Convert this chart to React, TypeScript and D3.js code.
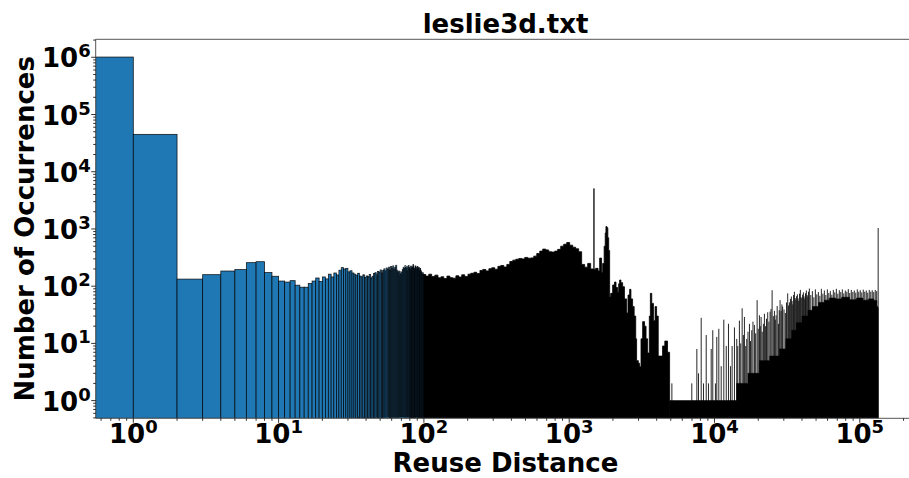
import * as d3 from "d3";

const TITLE = "leslie3d.txt";
const X_LABEL = "Reuse Distance";
const Y_LABEL = "Number of Occurrences";
const X_DECADES = [0, 1, 2, 3, 4, 5];
const Y_DECADES = [0, 1, 2, 3, 4, 5, 6];
const X_DOMAIN: [number, number] = [0.551, 241000];
const Y_DOMAIN: [number, number] = [0.491, 2063000];

// one bar per reuse distance 0..99
const NEAR_COUNTS = [
  1010000, 45000, 133, 159, 184, 195, 258, 268, 173, 149,
  123, 118, 125, 104, 96, 96, 111, 123, 139, 121,
  145, 134, 162, 145, 170, 157, 190, 211, 200, 205,
  178, 186, 170, 162, 155, 168, 150, 146, 158, 142,
  151, 147, 160, 140, 149, 166, 172, 158, 181, 176,
  192, 170, 188, 201, 185, 208, 196, 215, 190, 222,
  205, 226, 198, 214, 232, 190, 176, 184, 165, 178,
  171, 196, 214, 205, 228, 210, 219, 202, 231, 212,
  198, 224, 206, 218, 238, 209, 200, 226, 214, 196,
  221, 205, 212, 190, 203, 186, 176, 164, 172, 160,
];

// from 100 on the bars are thinner than a pixel: bin start -> tallest bar in bin
const DENSE_START = [
  100, 103, 108, 113, 119, 125, 131, 137, 144, 151,
  158, 166, 174, 182, 191, 201, 210, 221, 231, 243,
  254, 267, 280, 293, 307, 323, 338, 355, 372, 390,
  409, 429, 450, 472, 494, 519, 544, 570, 598, 627,
  657, 689, 723, 758, 795, 833, 874, 916, 961, 1008,
  1057, 1108, 1162, 1218, 1278, 1340, 1405, 1480, 1481, 1520,
  1580, 1620, 1670, 1700, 1740, 1770, 1790, 1820, 1845, 1870,
  1898, 1930, 1991, 2050, 2100, 2154, 2190, 2223, 2270, 2332,
  2400, 2485, 2540, 2606, 2660, 2731, 2800, 2870, 2911, 2990,
  3053, 3120, 3202, 3300, 3380, 3465, 3560, 3620, 3700, 3800,
  3900, 3994, 4100, 4250, 4392, 4550, 4750,
];
const DENSE_COUNT = [
  160, 150, 162, 148, 156, 140, 146, 136, 150, 141,
  138, 152, 144, 158, 147, 162, 168, 175, 166, 188,
  196, 185, 202, 210, 198, 222, 230, 216, 240, 270,
  285, 296, 305, 300, 318, 308, 312, 335, 372, 410,
  445, 430, 400, 395, 410, 440, 500, 540, 580, 520,
  480, 450, 400, 240, 215, 250, 200, 5100, 195, 205,
  185, 310, 175, 250, 500, 850, 1100, 1050, 700, 420,
  65, 75, 105, 118, 95, 78, 110, 128, 115, 98,
  60, 34, 70, 88, 60, 44, 30, 12, 5, 4.5,
  3.9, 12, 24, 20, 12, 6.8, 30, 75, 50, 25,
  44, 30, 6, 6, 9, 11, 7,
];
const DENSE_END = 4909;

// long tail floor: bin start -> height the packed bars fill solidly
const TAIL_START = [
  4909, 14200, 17000, 20400, 24000, 28000, 31000, 34000, 36600, 40000,
  44000, 47200, 52000, 57000, 61700, 68000, 75000, 85000, 95000, 105000,
  115000, 125000, 131000,
];
const TAIL_COUNT = [
  1, 2, 3, 5, 6, 8, 12, 17, 23, 30,
  38, 44, 52, 57, 62, 60, 64, 58, 62, 57,
  60, 56, 42,
];
const TAIL_END = 133800;

// single bars standing out of the tail
const SPIKE_AT = [
  5090, 6980, 7560, 7760, 8100, 8400, 8770, 9090, 9490, 9730,
  10150, 10370, 10710, 11120, 11590, 12050, 12480, 12880, 13220, 13720,
  14230, 14460, 14840, 15150, 15500, 15800, 16070, 16400, 16670, 17000,
  17400, 17700, 18050, 18400, 18830, 19200, 19650, 20000, 20380, 20650,
  20930, 21300, 21710, 22050, 22410, 22800, 23240, 23700, 24130, 24500,
  24920, 25400, 25850, 26200, 26540, 27000, 27540, 27900, 28270, 28730,
  29100, 29450, 30100, 30750, 31300, 31900, 32350, 32800, 33300, 33810,
  34200, 34600, 35000, 35480, 35900, 36300, 36750, 37190, 37600, 38000,
  38500, 38980, 39400, 39900, 40400, 40900, 41350, 41800, 42300, 42870,
  43400, 43900, 44400, 44960, 46000, 47170, 48300, 49440, 50600, 51870,
  53100, 54380, 55700, 57040, 58400, 59800, 61200, 62700, 64200, 65750,
  67300, 68950, 70600, 72300, 74000, 75820, 77600, 79490, 81400, 83350,
  85300, 87400, 89500, 91640, 93800, 96100, 98400, 100760, 103200, 105660,
  108200, 110800, 113400, 116180, 119000, 121820, 124700, 127740, 130700, 132500,
  133800,
];
const SPIKE_COUNT = [
  2, 2, 8, 3, 28, 2, 14, 2, 8, 17,
  2, 13, 18, 4, 26, 9, 22, 4, 9, 19,
  12, 9, 25, 10, 41, 14, 29, 9, 12, 16,
  22, 11, 17, 24, 21, 15, 57, 18, 31, 20,
  29, 16, 22, 33, 20, 27, 35, 24, 36, 40,
  85, 30, 37, 26, 31, 45, 22, 38, 57, 37,
  48, 44, 39, 34, 52, 75, 46, 52, 60, 66,
  55, 48, 70, 80, 62, 58, 67, 72, 61, 55,
  74, 86, 64, 62, 71, 78, 66, 60, 75, 84,
  70, 66, 80, 91, 70, 82, 64, 88, 72, 79,
  68, 90, 74, 84, 70, 88, 76, 82, 71, 86,
  78, 90, 74, 85, 79, 88, 75, 84, 80, 89,
  76, 86, 79, 84, 77, 88, 80, 85, 78, 87,
  80, 84, 77, 86, 80, 85, 79, 86, 82, 45,
  1040,
];

const FONT = "'DejaVu Sans', sans-serif";
const BLUE = "#1f77b4";

export default function App() {
  const W = 909, H = 478;
  const plot = { l: 95.7, r: 915.3, t: 39.3, b: 418.3 };
  const x = d3.scaleLog().domain(X_DOMAIN).range([plot.l, plot.r]);
  const y = d3.scaleLog().domain(Y_DOMAIN).range([plot.b, plot.t]);
  const xc = (v: number) => x(Math.max(v, X_DOMAIN[0]));

  const near = NEAR_COUNTS.map((c, k) => ({ x0: xc(k), x1: x(k + 1), top: y(c) }));

  // packed bins drawn as one stepped area so no seams show between them
  const stepArea = d3.area<[number, number]>()
    .x(d => x(d[0])).y0(plot.b).y1(d => y(d[1]))
    .curve(d3.curveStepAfter);
  const steps = (starts: number[], counts: number[], end: number): [number, number][] =>
    [...starts.map((s, i) => [s, counts[i]] as [number, number]), [end, counts[counts.length - 1]]];
  const densePath = stepArea(steps(DENSE_START, DENSE_COUNT, DENSE_END)) ?? "";
  const tailPath = stepArea(steps(TAIL_START, TAIL_COUNT, TAIL_END)) ?? "";

  const minor = (dom: [number, number], lo: number, hi: number) => {
    const out: number[] = [];
    for (let e = lo; e <= hi; e++) for (let m = 2; m <= 9; m++) {
      const v = m * 10 ** e;
      if (v > dom[0] && v < dom[1]) out.push(v);
    }
    return out;
  };
  const xMinor = minor(X_DOMAIN, -1, 5);
  const yMinor = minor(Y_DOMAIN, -1, 6);
  const cx = (plot.l + plot.r) / 2;
  const cy = (plot.t + plot.b) / 2;

  return (
    <svg width={W} height={H} style={{ position: "absolute", left: 0, top: 0, background: "#fff" }}
      fontFamily={FONT} fontWeight="bold">
      <defs>
        <clipPath id="plot"><rect x={plot.l} y={plot.t} width={plot.r - plot.l} height={plot.b - plot.t} /></clipPath>
      </defs>
      <g clipPath="url(#plot)">
        {near.map((d, i) => (
          <rect key={"n" + i} x={d.x0} y={d.top} width={d.x1 - d.x0} height={plot.b - d.top}
            fill={BLUE} stroke="#000" strokeWidth={0.8} strokeOpacity={0.85} />
        ))}
        <path d={densePath} fill="#000" stroke="#000" strokeWidth={0.8} strokeLinejoin="miter" />
        <path d={tailPath} fill="#000" stroke="#000" strokeWidth={0.6} />
        {SPIKE_AT.map((k, i) => (
          <line key={"s" + i} x1={x(k)} x2={x(k)} y1={plot.b} y2={y(SPIKE_COUNT[i])}
            stroke="#000" strokeWidth={1} strokeOpacity={0.85} />
        ))}
      </g>

      {/* spines */}
      <g stroke="#555" strokeWidth={1} fill="none">
        <line x1={plot.l} x2={plot.r} y1={plot.t} y2={plot.t} />
        <line x1={plot.l} x2={plot.r} y1={plot.b} y2={plot.b} />
        <line x1={plot.l} x2={plot.l} y1={plot.t} y2={plot.b} />
        <line x1={plot.r} x2={plot.r} y1={plot.t} y2={plot.b} />
      </g>

      {/* ticks */}
      <g stroke="#000" strokeWidth={0.8}>
        {X_DECADES.map(e => <line key={"xM" + e} x1={x(10 ** e)} x2={x(10 ** e)} y1={plot.b} y2={plot.b + 4.5} />)}
        {xMinor.map(v => <line key={"xm" + v} x1={x(v)} x2={x(v)} y1={plot.b} y2={plot.b + 2.5} />)}
        {Y_DECADES.map(e => <line key={"yM" + e} x1={plot.l} x2={plot.l - 4.5} y1={y(10 ** e)} y2={y(10 ** e)} />)}
        {yMinor.map(v => <line key={"ym" + v} x1={plot.l} x2={plot.l - 2.5} y1={y(v)} y2={y(v)} />)}
      </g>

      {X_DECADES.map(e => (
        <text key={"xl" + e} x={x(10 ** e)} y={plot.b + 25} textAnchor="middle" fontSize={26} fill="#000">
          <tspan>10</tspan><tspan fontSize={18} dy={-10}>{e}</tspan>
        </text>
      ))}
      {Y_DECADES.map(e => (
        <text key={"yl" + e} x={plot.l - 5} y={y(10 ** e) + 10} textAnchor="end" fontSize={26} fill="#000">
          <tspan>10</tspan><tspan fontSize={18} dy={-10}>{e}</tspan>
        </text>
      ))}

      <text x={cx} y={472} textAnchor="middle" fontSize={26} fill="#000">{X_LABEL}</text>
      <text x={34} y={cy} textAnchor="middle" fontSize={26} fill="#000" transform={`rotate(-90 34 ${cy})`}>{Y_LABEL}</text>
      <text x={cx} y={33} textAnchor="middle" fontSize={26} fill="#000">{TITLE}</text>
    </svg>
  );
}
